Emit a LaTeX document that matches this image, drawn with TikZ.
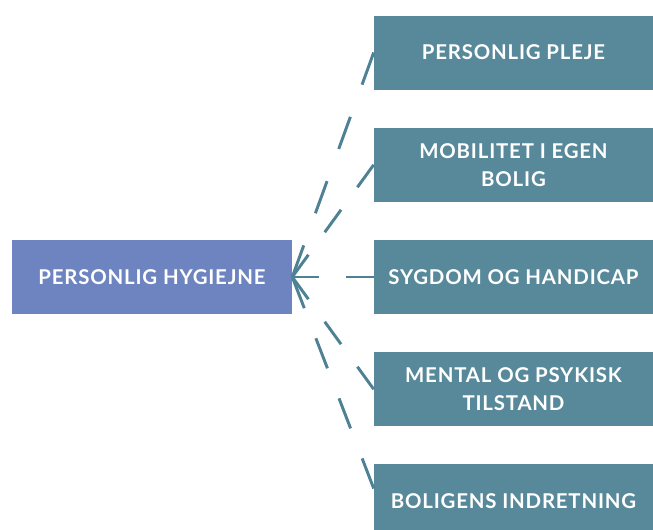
\documentclass[tikz,border=0pt]{standalone}
\usepackage{fontspec}
\setmainfont{Lato}[LetterSpace=4]
\usetikzlibrary{positioning}

\definecolor{boxteal}{HTML}{58899A}
\definecolor{boxblue}{HTML}{6D84C0}
\definecolor{linkteal}{HTML}{4F8194}

\tikzset{
  topic/.style={fill=boxteal, draw=none, minimum width=6.975cm, minimum height=1.85cm,
    inner sep=0pt, align=center, text=white, font=\fontsize{14.5}{19.9}\selectfont\bfseries},
  main/.style={topic, fill=boxblue, minimum width=7cm},
  link/.style={draw=linkteal, line width=2.1pt, dash pattern=on #1 off #1}
}

\begin{document}
\begin{tikzpicture}[node distance=2.806cm, on grid]
\useasboundingbox (0,0) rectangle (16.325,13.25);

\node[main] (hyg) at (3.8,6.325) {PERSONLIG HYGIEJNE};
\node[topic] (sygdom) at (12.8375,6.325) {SYGDOM OG HANDICAP};
\node[topic, above of = sygdom] (mobil) {MOBILITET I EGEN\\BOLIG};
\node[topic, above of = mobil] (pleje) {PERSONLIG PLEJE};
\node[topic, below of = sygdom] (mental) {MENTAL OG PSYKISK\\TILSTAND};
\node[topic, below of = mental] (bolig) {BOLIGENS INDRETNING};
\coordinate (bolig_in) at ([yshift=0.325cm]bolig.west);

\path
(pleje.west) edge [link=0.855cm] (hyg.east)
(mobil.west) edge [link=0.695cm] (hyg.east)
(sygdom.west) edge [link=0.683cm] (hyg.east)
(mental.west) edge [link=0.695cm] (hyg.east)
(bolig_in) edge [link=0.805cm] (hyg.east)
;
\end{tikzpicture}
\end{document}
